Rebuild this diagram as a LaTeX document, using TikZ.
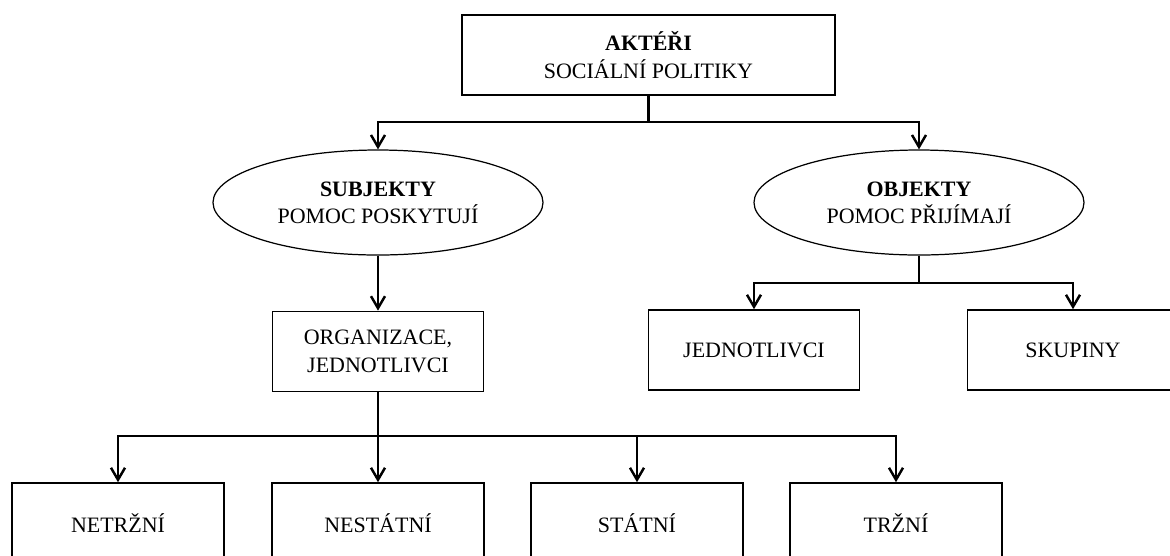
\documentclass[tikz,border=0pt]{standalone}
\usepackage{fontspec}
\setmainfont{Liberation Serif}
\usetikzlibrary{shapes.geometric,arrows.meta,positioning}

\begin{document}
\begin{tikzpicture}[
    font=\fontsize{12.5}{15.5}\selectfont,
    box/.style={rectangle, draw=black, line width=0.9pt, minimum width=4.22cm, minimum height=1.6cm, align=center},
    oval/.style={ellipse, draw=black, line width=0.7pt, minimum width=6.6cm, minimum height=2.1cm, align=center},
    line/.style={line width=1.4pt},
    arrow/.style={line, -{Straight Barb[length=2.4mm, width=2.8mm]}}
]
\useasboundingbox (0,0) rectangle (23.4,-11.1);

% Top level
\node[box, minimum width=7.46cm] (akteri) at (12.97,-1.1) {\textbf{AKTÉŘI}\\SOCIÁLNÍ POLITIKY};

% Subjects and objects
\node[oval] (subjekty) at (7.56,-4.05) {\textbf{SUBJEKTY}\\POMOC POSKYTUJÍ};
\node[oval] (objekty) at (18.38,-4.05) {\textbf{OBJEKTY}\\POMOC PŘIJÍMAJÍ};

% Second level
\node[box, below=1.1cm of subjekty] (org) {ORGANIZACE,\\JEDNOTLIVCI};
\node[box] (jednotlivci) at (15.08,-7) {JEDNOTLIVCI};
\node[box] (skupiny) at (21.46,-7) {SKUPINY};

% Bottom level
\node[box, minimum width=4.24cm] (netrzni) at (2.36,-10.46) {NETRŽNÍ};
\node[box, minimum width=4.24cm] (nestatni) at (7.56,-10.46) {NESTÁTNÍ};
\node[box, minimum width=4.24cm] (statni) at (12.74,-10.46) {STÁTNÍ};
\node[box, minimum width=4.24cm] (trzni) at (17.92,-10.46) {TRŽNÍ};

% Junctions
\coordinate (split1) at (12.97,-2.44);
\coordinate (split2) at (18.38,-5.66);
\coordinate (split3) at (7.56,-8.72);

% Arrows
\draw[line] (akteri) -- (split1);
\draw[arrow] (split1) -| (subjekty);
\draw[arrow] (split1) -| (objekty);
\draw[arrow] (subjekty) -- (org);
\draw[line] (objekty) -- (split2);
\draw[arrow] (split2) -| (jednotlivci);
\draw[arrow] (split2) -| (skupiny);
\draw[line] (org) -- (split3);
\draw[arrow] (split3) -| (netrzni);
\draw[arrow] (split3) -- (nestatni);
\draw[arrow] (split3) -| (statni);
\draw[arrow] (split3) -| (trzni);

\end{tikzpicture}
\end{document}
